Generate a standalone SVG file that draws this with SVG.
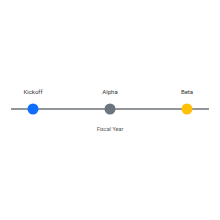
<svg xmlns="http://www.w3.org/2000/svg" width="220" height="220" viewBox="0 0 220 220">
<style>
.lbl{font-family:Roboto,"Liberation Sans",sans-serif;font-size:6px;fill:#333;text-anchor:middle}
.axis{font-family:Roboto,"Liberation Sans",sans-serif;font-size:5.5px;fill:#555;text-anchor:middle}
</style>
<rect width="220" height="220" fill="#fff"/>
<g id="connectors">
<line x1="11" y1="109" x2="209" y2="109" stroke="#6c737a" stroke-width="1.5"/>
</g>
<g id="kickoff">
<circle cx="33" cy="109" r="5.5" fill="#0d6efd"/>
<text class="lbl" x="33" y="94">Kickoff</text>
</g>
<g id="alpha">
<circle cx="110" cy="109" r="5.5" fill="#6c757d"/>
<text class="lbl" x="110" y="94">Alpha</text>
</g>
<g id="beta">
<circle cx="187" cy="109" r="5.5" fill="#ffc107"/>
<text class="lbl" x="187" y="94">Beta</text>
</g>
<text class="axis" x="110" y="131">Fiscal Year</text>
</svg>
